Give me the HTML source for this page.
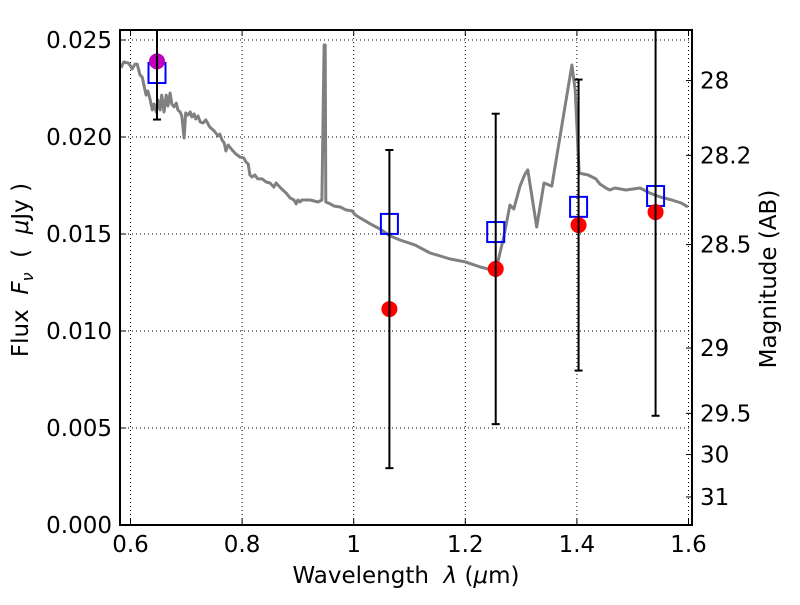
<!DOCTYPE html>
<html><head><meta charset="utf-8"><style>
body{margin:0;background:#fff}
svg text{font-family:"DejaVu Sans","Liberation Sans",sans-serif;fill:#000;white-space:pre}
</style></head><body>
<svg id="chart" width="800" height="600" viewBox="0 0 800 600">
<rect x="0" y="0" width="800" height="600" fill="#fff"/>
<g id="grid"></g>
<g id="spec"></g>
<g id="marks"></g>
<g id="axes"></g>
<text x="406" y="583" font-size="23" text-anchor="middle">Wavelength&#160;&#160;<tspan font-style="italic">λ</tspan> (<tspan font-style="italic">μ</tspan>m)</text>
<text transform="translate(28,270) rotate(-90)" font-size="23" text-anchor="middle">Flux&#160;&#160;<tspan font-style="italic">F</tspan><tspan font-style="italic" font-size="16" dy="5">ν</tspan><tspan dy="-5">&#160;&#160;(&#160;&#160;</tspan><tspan font-style="italic">μ</tspan>Jy )</text>
<text transform="translate(776,279) rotate(-90)" font-size="23" text-anchor="middle">Magnitude (AB)</text>
</svg>
<script>
const specLam=[0.583,0.588,0.596,0.599,0.603,0.608,0.612,0.617,0.621,0.624,0.628,0.631,0.635,0.639,0.642,0.646,0.649,0.653,0.656,0.660,0.664,0.667,0.671,0.674,0.678,0.682,0.685,0.689,0.692,0.696,0.699,0.703,0.707,0.710,0.714,0.717,0.721,0.725,0.730,0.735,0.742,0.750,0.757,0.760,0.764,0.768,0.771,0.775,0.782,0.789,0.796,0.803,0.807,0.811,0.814,0.818,0.823,0.828,0.836,0.843,0.850,0.857,0.861,0.864,0.871,0.879,0.886,0.893,0.897,0.900,0.904,0.907,0.922,0.936,0.943,0.947,0.949,0.950,0.958,0.965,0.976,0.986,0.997,1.003,1.012,1.030,1.047,1.065,1.083,1.110,1.137,1.173,1.200,1.227,1.248,1.257,1.269,1.280,1.287,1.298,1.307,1.312,1.328,1.341,1.355,1.391,1.397,1.404,1.420,1.434,1.441,1.452,1.459,1.468,1.488,1.513,1.531,1.549,1.570,1.587,1.599];
const specFlux=[0.02356,0.02387,0.02381,0.02371,0.02351,0.02376,0.02376,0.02320,0.02309,0.02268,0.02216,0.02237,0.02196,0.02139,0.02170,0.02129,0.02191,0.02139,0.02216,0.02129,0.02216,0.02160,0.02227,0.02170,0.02155,0.02175,0.02139,0.02129,0.02108,0.01995,0.02124,0.02113,0.02129,0.02103,0.02119,0.02093,0.02108,0.02077,0.02072,0.02088,0.02052,0.02031,0.02005,0.02015,0.01985,0.01969,0.01928,0.01959,0.01933,0.01912,0.01897,0.01892,0.01871,0.01861,0.01804,0.01794,0.01804,0.01784,0.01784,0.01768,0.01763,0.01742,0.01763,0.01753,0.01732,0.01711,0.01686,0.01675,0.01655,0.01675,0.01665,0.01675,0.01675,0.01665,0.01675,0.02474,0.02474,0.01665,0.01655,0.01644,0.01639,0.01624,0.01619,0.01598,0.01582,0.01552,0.01526,0.01490,0.01469,0.01443,0.01402,0.01371,0.01356,0.01330,0.01314,0.01340,0.01485,0.01649,0.01629,0.01747,0.01809,0.01830,0.01536,0.01763,0.01747,0.02371,0.02242,0.01814,0.01804,0.01784,0.01758,0.01737,0.01727,0.01737,0.01727,0.01737,0.01711,0.01691,0.01675,0.01660,0.01639];
const photLam=[0.6475,1.064,1.2545,1.403,1.541];
const photFlux=[0.0239,0.01113,0.0132,0.01546,0.01613];
const photErr=[0.0030,0.0082,0.0080,0.0075,0.0105];
const modelFlux=[0.0233,0.01552,0.0151,0.0164,0.01696];
const xTicks=[0.6,0.8,1.0,1.2,1.4,1.6];
const xTickLabels=["0.6","0.8","1","1.2","1.4","1.6"];
const yTicks=[0,0.005,0.010,0.015,0.020,0.025];
const yTickLabels=["0.000","0.005","0.010","0.015","0.020","0.025"];
const magTicks=[28,28.2,28.5,29,29.5,30,31];
const magTickLabels=["28","28.2","28.5","29","29.5","30","31"];

const L=120,R=692,T=30,B=525;
const X=v=>130.5+(v-0.6)*558;
const Y=v=>525-v*19400;
const NS='http://www.w3.org/2000/svg';
function mk(tag,parent,attrs){const e=document.createElementNS(NS,tag);for(const k in attrs)e.setAttribute(k,attrs[k]);parent.appendChild(e);return e;}
const grid=document.getElementById('grid'),axes=document.getElementById('axes'),spec=document.getElementById('spec'),marks=document.getElementById('marks');

xTicks.forEach((t,i)=>{
  const x=X(t);
  const g=mk('line',grid,{x1:x,x2:x,y1:T,y2:B,stroke:'#000','stroke-width':1,'stroke-dasharray':'1,3'});
  
  
  mk('line',axes,{x1:x,x2:x,y1:B,y2:B-6,stroke:'#000','stroke-width':1});
  mk('line',axes,{x1:x,x2:x,y1:T,y2:T+6,stroke:'#000','stroke-width':1});
  const tx=mk('text',axes,{x:x,y:552,'font-size':23,'text-anchor':'middle'});
  tx.textContent=xTickLabels[i];
  
  
});
yTicks.forEach((t,i)=>{
  const y=Y(t);
  const g=mk('line',grid,{x1:L,x2:R,y1:y,y2:y,stroke:'#000','stroke-width':1,'stroke-dasharray':'1,3'});
  
  
  mk('line',axes,{x1:L,x2:L+6,y1:y,y2:y,stroke:'#000','stroke-width':1});
  const tx=mk('text',axes,{x:112,y:y+8,'font-size':23,'text-anchor':'end'});
  tx.textContent=yTickLabels[i];
  
  
});
magTicks.forEach((m,i)=>{
  const f=Math.pow(10,(23.9-m)/2.5);
  const y=Y(f);
  mk('line',axes,{x1:R,x2:R-6,y1:y,y2:y,stroke:'#000','stroke-width':1});
  const tx=mk('text',axes,{x:700,y:y+8,'font-size':23,'text-anchor':'start'});
  tx.textContent=magTickLabels[i];
  
  
});
mk('rect',axes,{x:L,y:T,width:R-L,height:B-T,fill:'none',stroke:'#000','stroke-width':2});

const pts=specLam.map((l,i)=>X(l).toFixed(1)+','+Y(specFlux[i]).toFixed(1)).join(' ');
const pl=mk('polyline',spec,{points:pts,fill:'none',stroke:'#808080','stroke-width':3,'stroke-linejoin':'round'});



photLam.forEach((l,i)=>{
  const x=X(l);
  const sq=mk('rect',marks,{x:x-8.5,y:Y(modelFlux[i])-10,width:17,height:20,fill:'none',stroke:'#0000ff','stroke-width':2});
  
  
  const c=mk('circle',marks,{cx:x,cy:Y(photFlux[i]),r:8,fill:i===0?'#bf00bf':'#ff0000'});
  
  
  const top=Math.max(T,Y(photFlux[i]+photErr[i])),bot=Y(photFlux[i]-photErr[i]);
  const e=mk('line',marks,{x1:x,x2:x,y1:top,y2:bot,stroke:'#000','stroke-width':2});
  
  
  mk('line',marks,{x1:x-4,x2:x+4,y1:bot,y2:bot,stroke:'#000','stroke-width':2});
  if(Y(photFlux[i]+photErr[i])>T) mk('line',marks,{x1:x-4,x2:x+4,y1:top,y2:top,stroke:'#000','stroke-width':2});
});
</script>
</body></html>
